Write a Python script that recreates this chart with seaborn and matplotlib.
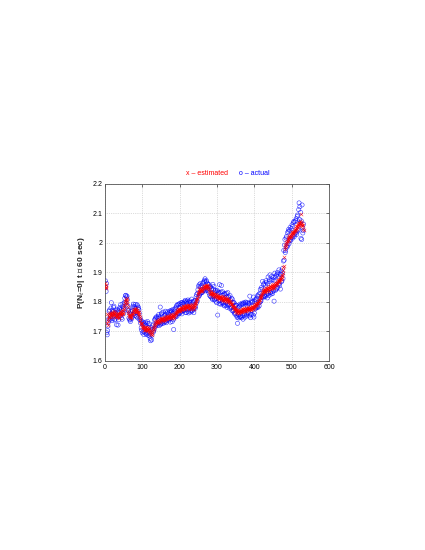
import numpy as np
import pandas as pd
import matplotlib
matplotlib.use("Agg")
import matplotlib.pyplot as plt
import seaborn as sns

estimated = [
    1.862, 1.858, 1.851, 1.845, 1.760, 1.728, 1.722, 1.735, 1.741, 1.748,
    1.752, 1.758, 1.749, 1.761, 1.755, 1.763, 1.757, 1.750, 1.766, 1.759,
    1.754, 1.762, 1.758, 1.770, 1.761, 1.752, 1.757, 1.764, 1.749, 1.756,
    1.760, 1.753, 1.747, 1.758, 1.762, 1.755, 1.750, 1.746, 1.757, 1.763,
    1.768, 1.759, 1.754, 1.761, 1.772, 1.766, 1.758, 1.763, 1.770, 1.777,
    1.781, 1.789, 1.796, 1.803, 1.811, 1.806, 1.798, 1.812, 1.804, 1.793,
    1.782, 1.770, 1.762, 1.755, 1.751, 1.748, 1.756, 1.752, 1.745, 1.749,
    1.754, 1.759, 1.763, 1.758, 1.766, 1.771, 1.768, 1.774, 1.769, 1.776,
    1.772, 1.765, 1.770, 1.778, 1.773, 1.767, 1.771, 1.764, 1.760, 1.766,
    1.758, 1.752, 1.747, 1.741, 1.735, 1.729, 1.724, 1.728, 1.721, 1.716,
    1.713, 1.718, 1.710, 1.705, 1.712, 1.708, 1.715, 1.703, 1.709, 1.714,
    1.706, 1.711, 1.702, 1.708, 1.715, 1.704, 1.699, 1.707, 1.712, 1.701,
    1.695, 1.690, 1.698, 1.692, 1.686, 1.694, 1.701, 1.705, 1.712, 1.709,
    1.716, 1.722, 1.718, 1.725, 1.731, 1.727, 1.734, 1.729, 1.736, 1.731,
    1.738, 1.733, 1.727, 1.735, 1.740, 1.736, 1.731, 1.739, 1.744, 1.737,
    1.742, 1.738, 1.745, 1.740, 1.735, 1.743, 1.748, 1.741, 1.737, 1.744,
    1.739, 1.746, 1.751, 1.743, 1.748, 1.742, 1.750, 1.745, 1.753, 1.747,
    1.752, 1.746, 1.755, 1.749, 1.744, 1.751, 1.757, 1.750, 1.746, 1.754,
    1.748, 1.756, 1.751, 1.745, 1.753, 1.759, 1.754, 1.762, 1.758, 1.766,
    1.761, 1.769, 1.765, 1.772, 1.768, 1.775, 1.770, 1.777, 1.773, 1.768,
    1.776, 1.771, 1.779, 1.774, 1.781, 1.776, 1.772, 1.780, 1.785, 1.778,
    1.783, 1.777, 1.786, 1.781, 1.775, 1.784, 1.789, 1.782, 1.778, 1.786,
    1.781, 1.788, 1.783, 1.777, 1.785, 1.790, 1.784, 1.779, 1.787, 1.782,
    1.776, 1.784, 1.791, 1.786, 1.780, 1.788, 1.783, 1.777, 1.786, 1.792,
    1.787, 1.795, 1.802, 1.797, 1.806, 1.813, 1.808, 1.818, 1.825, 1.831,
    1.838, 1.834, 1.842, 1.837, 1.845, 1.840, 1.835, 1.843, 1.838, 1.846,
    1.841, 1.849, 1.844, 1.852, 1.847, 1.855, 1.850, 1.846, 1.853, 1.858,
    1.851, 1.856, 1.849, 1.854, 1.847, 1.852, 1.845, 1.849, 1.843, 1.838,
    1.833, 1.828, 1.835, 1.830, 1.825, 1.831, 1.826, 1.820, 1.827, 1.832,
    1.826, 1.821, 1.828, 1.823, 1.817, 1.824, 1.819, 1.826, 1.821, 1.815,
    1.822, 1.817, 1.812, 1.819, 1.814, 1.809, 1.816, 1.821, 1.815, 1.810,
    1.817, 1.812, 1.806, 1.813, 1.818, 1.811, 1.806, 1.814, 1.809, 1.803,
    1.810, 1.815, 1.808, 1.803, 1.811, 1.806, 1.800, 1.808, 1.813, 1.805,
    1.799, 1.806, 1.801, 1.796, 1.803, 1.797, 1.791, 1.798, 1.792, 1.787,
    1.793, 1.786, 1.780, 1.787, 1.781, 1.776, 1.782, 1.775, 1.770, 1.777,
    1.771, 1.766, 1.773, 1.768, 1.763, 1.770, 1.765, 1.761, 1.768, 1.763,
    1.769, 1.764, 1.771, 1.766, 1.772, 1.767, 1.774, 1.769, 1.775, 1.770,
    1.776, 1.771, 1.778, 1.773, 1.768, 1.775, 1.780, 1.774, 1.770, 1.777,
    1.772, 1.779, 1.774, 1.781, 1.776, 1.771, 1.778, 1.783, 1.777, 1.772,
    1.779, 1.774, 1.781, 1.786, 1.780, 1.775, 1.782, 1.788, 1.783, 1.778,
    1.785, 1.791, 1.786, 1.793, 1.788, 1.795, 1.790, 1.797, 1.802, 1.796,
    1.803, 1.798, 1.806, 1.812, 1.807, 1.815, 1.821, 1.816, 1.824, 1.830,
    1.825, 1.833, 1.838, 1.832, 1.840, 1.835, 1.843, 1.837, 1.832, 1.840,
    1.845, 1.839, 1.847, 1.842, 1.836, 1.844, 1.850, 1.843, 1.838, 1.846,
    1.852, 1.847, 1.855, 1.849, 1.843, 1.851, 1.857, 1.850, 1.845, 1.853,
    1.859, 1.853, 1.847, 1.855, 1.861, 1.856, 1.862, 1.857, 1.864, 1.860,
    1.867, 1.862, 1.869, 1.874, 1.868, 1.875, 1.871, 1.878, 1.873, 1.880,
    1.876, 1.883, 1.879, 1.886, 1.892, 1.898, 1.906, 1.918, 1.950, 1.921,
    1.978, 1.985, 1.992, 1.988, 1.996, 2.003, 1.998, 2.007, 2.012, 2.006,
    2.015, 2.010, 2.019, 2.024, 2.018, 2.026, 2.021, 2.029, 2.024, 2.032,
    2.027, 2.035, 2.030, 2.038, 2.033, 2.041, 2.036, 2.044, 2.039, 2.047,
    2.042, 2.050, 2.055, 2.048, 2.056, 2.061, 2.054, 2.062, 2.067, 2.060,
    2.068, 2.073, 2.066, 2.098, 2.071, 2.064, 2.059, 2.066, 2.055, 2.061,
    2.048, 2.042,
]

actual = [
    1.871, 1.849, 1.835, 1.862, 1.695, 1.688, 1.702, 1.718, 1.731, 1.742,
    1.768, 1.772, 1.739, 1.751, 1.745, 1.779, 1.797, 1.760, 1.736, 1.771,
    1.743, 1.766, 1.781, 1.785, 1.752, 1.738, 1.741, 1.763, 1.772, 1.758,
    1.722, 1.748, 1.765, 1.773, 1.721, 1.769, 1.739, 1.752, 1.776, 1.781,
    1.752, 1.790, 1.774, 1.746, 1.758, 1.741, 1.783, 1.793, 1.777, 1.761,
    1.774, 1.798, 1.812, 1.795, 1.821, 1.822, 1.789, 1.816, 1.819, 1.807,
    1.786, 1.771, 1.769, 1.745, 1.762, 1.738, 1.741, 1.733, 1.767, 1.758,
    1.742, 1.748, 1.771, 1.779, 1.785, 1.792, 1.758, 1.761, 1.783, 1.754,
    1.791, 1.779, 1.752, 1.764, 1.749, 1.790, 1.786, 1.745, 1.776, 1.781,
    1.773, 1.761, 1.739, 1.746, 1.728, 1.738, 1.712, 1.704, 1.733, 1.695,
    1.725, 1.731, 1.699, 1.689, 1.726, 1.697, 1.720, 1.722, 1.731, 1.693,
    1.689, 1.716, 1.727, 1.733, 1.694, 1.686, 1.712, 1.726, 1.692, 1.684,
    1.676, 1.668, 1.703, 1.712, 1.671, 1.687, 1.706, 1.719, 1.724, 1.698,
    1.703, 1.709, 1.738, 1.741, 1.745, 1.718, 1.722, 1.749, 1.746, 1.725,
    1.721, 1.744, 1.751, 1.757, 1.719, 1.729, 1.748, 1.782, 1.723, 1.726,
    1.758, 1.762, 1.731, 1.727, 1.749, 1.765, 1.736, 1.728, 1.732, 1.753,
    1.757, 1.768, 1.734, 1.729, 1.762, 1.737, 1.751, 1.766, 1.759, 1.741,
    1.738, 1.743, 1.764, 1.769, 1.731, 1.742, 1.767, 1.771, 1.765, 1.733,
    1.761, 1.774, 1.739, 1.706, 1.745, 1.768, 1.773, 1.778, 1.749, 1.753,
    1.782, 1.787, 1.751, 1.758, 1.791, 1.789, 1.761, 1.759, 1.781, 1.794,
    1.762, 1.765, 1.791, 1.797, 1.768, 1.759, 1.792, 1.798, 1.794, 1.771,
    1.769, 1.772, 1.801, 1.796, 1.805, 1.763, 1.773, 1.764, 1.799, 1.802,
    1.795, 1.806, 1.768, 1.762, 1.776, 1.799, 1.803, 1.798, 1.765, 1.771,
    1.791, 1.809, 1.768, 1.771, 1.797, 1.801, 1.775, 1.763, 1.779, 1.804,
    1.803, 1.778, 1.785, 1.817, 1.824, 1.798, 1.803, 1.829, 1.841, 1.816,
    1.852, 1.857, 1.821, 1.826, 1.861, 1.851, 1.829, 1.832, 1.855, 1.831,
    1.833, 1.862, 1.866, 1.838, 1.842, 1.869, 1.873, 1.878, 1.837, 1.846,
    1.868, 1.871, 1.839, 1.843, 1.862, 1.859, 1.837, 1.831, 1.858, 1.822,
    1.849, 1.851, 1.818, 1.816, 1.841, 1.845, 1.812, 1.808, 1.859, 1.818,
    1.842, 1.852, 1.806, 1.809, 1.833, 1.838, 1.802, 1.811, 1.797, 1.836,
    1.838, 1.755, 1.829, 1.832, 1.803, 1.793, 1.858, 1.831, 1.805, 1.792,
    1.833, 1.855, 1.796, 1.798, 1.834, 1.822, 1.795, 1.789, 1.826, 1.786,
    1.828, 1.824, 1.797, 1.788, 1.829, 1.816, 1.781, 1.792, 1.831, 1.786,
    1.815, 1.817, 1.789, 1.778, 1.821, 1.806, 1.782, 1.779, 1.812, 1.771,
    1.809, 1.797, 1.768, 1.772, 1.798, 1.796, 1.762, 1.758, 1.786, 1.761,
    1.789, 1.788, 1.752, 1.747, 1.727, 1.781, 1.756, 1.745, 1.783, 1.749,
    1.786, 1.792, 1.748, 1.751, 1.789, 1.746, 1.795, 1.791, 1.752, 1.741,
    1.793, 1.797, 1.755, 1.759, 1.748, 1.792, 1.799, 1.796, 1.757, 1.752,
    1.788, 1.797, 1.761, 1.764, 1.793, 1.795, 1.752, 1.819, 1.758, 1.746,
    1.797, 1.802, 1.757, 1.771, 1.798, 1.801, 1.755, 1.816, 1.748, 1.762,
    1.801, 1.807, 1.776, 1.779, 1.806, 1.812, 1.781, 1.784, 1.821, 1.781,
    1.819, 1.825, 1.786, 1.797, 1.829, 1.842, 1.801, 1.803, 1.848, 1.816,
    1.843, 1.869, 1.818, 1.815, 1.858, 1.862, 1.822, 1.819, 1.817, 1.856,
    1.871, 1.866, 1.823, 1.828, 1.813, 1.861, 1.884, 1.829, 1.821, 1.868,
    1.875, 1.891, 1.831, 1.832, 1.826, 1.873, 1.886, 1.834, 1.828, 1.875,
    1.882, 1.838, 1.802, 1.871, 1.897, 1.884, 1.839, 1.842, 1.889, 1.845,
    1.893, 1.899, 1.848, 1.858, 1.885, 1.908, 1.862, 1.856, 1.894, 1.843,
    1.892, 1.904, 1.868, 1.871, 1.912, 1.896, 1.879, 1.938, 1.974, 1.941,
    1.992, 2.011, 1.967, 1.974, 2.016, 2.021, 1.988, 1.985, 2.034, 1.992,
    2.038, 2.045, 1.997, 2.006, 2.041, 2.052, 2.012, 2.008, 2.047, 2.018,
    2.061, 2.055, 2.016, 2.024, 2.068, 2.072, 2.021, 2.029, 2.071, 2.033,
    2.075, 2.081, 2.028, 2.036, 2.089, 2.094, 2.041, 2.045, 2.112, 2.135,
    2.079, 2.122, 2.068, 2.103, 2.015, 2.074, 2.011, 2.128, 2.052, 2.033,
    2.041, 2.063,
]

sample_index = list(range(1, len(estimated) + 1))

x_ticks = [0, 100, 200, 300, 400, 500, 600]
y_ticks = [1.6, 1.7, 1.8, 1.9, 2.0, 2.1, 2.2]
y_tick_labels = ["1.6", "1.7", "1.8", "1.9", "2", "2.1", "2.2"]

df = pd.DataFrame({"t": sample_index, "estimated": estimated, "actual": actual})

sns.set_style("white")
plt.rcParams["font.family"] = ["Liberation Sans", "DejaVu Sans"]

fig = plt.figure(figsize=(4.25, 5.5), dpi=100)
ax = fig.add_axes([0.247, 0.344, 0.527, 0.322])

sns.scatterplot(data=df, x="t", y="estimated", marker="x", s=6,
                color="red", linewidth=0.4, alpha=0.85, ax=ax, zorder=3)
sns.scatterplot(data=df, x="t", y="actual", marker="o", s=9,
                facecolors="none", edgecolors="blue", linewidth=0.4,
                alpha=0.8, ax=ax, zorder=2)

ax.set_xlim(0, 600)
ax.set_ylim(1.6, 2.2)
ax.set_xticks(x_ticks)
ax.set_xticklabels([str(v) for v in x_ticks])
ax.set_yticks(y_ticks)
ax.set_yticklabels(y_tick_labels)
ax.tick_params(axis="both", labelsize=5, direction="in", length=2, width=0.5,
               top=True, right=True, pad=2, colors="#333333", labelcolor="black")
ax.grid(True, linestyle=":", linewidth=0.5, color="#bbbbbb")
for sp in ax.spines.values():
    sp.set_linewidth(0.6)
    sp.set_color("#555555")
ax.set_xlabel("")
ax.set_ylabel("P(N$_t$=0| t \u2208 60 sec)", fontsize=6, fontweight="bold", labelpad=4)

fig.text(0.487, 0.678, "x \u2013 estimated", color="red", fontsize=5, ha="center", va="bottom")
fig.text(0.598, 0.678, "o \u2013 actual", color="blue", fontsize=5, ha="center", va="bottom")

fig.savefig("out.png", dpi=100)
